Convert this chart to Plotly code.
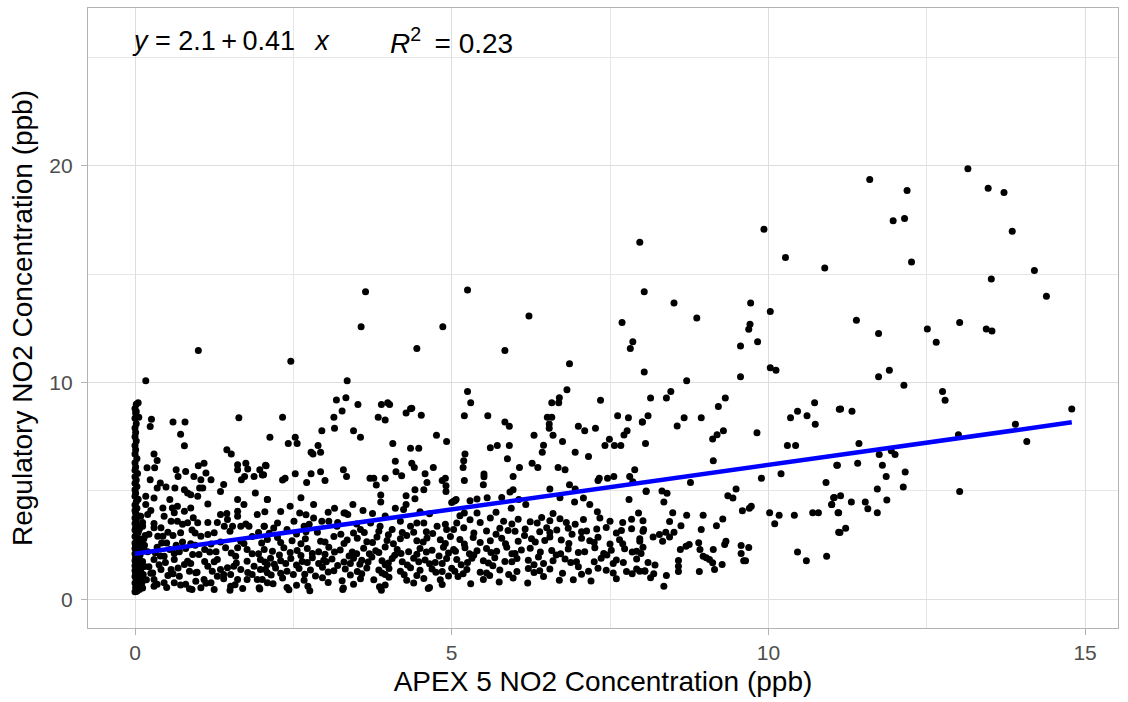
import plotly.graph_objects as go

# ---------------- data ----------------
# points hugging x = 0 (APEX ~ 0 ppb)
zero_pts = [
    (0.00,0.35),(0.02,0.42),(0.05,0.50),(0.01,0.55),(0.08,0.62),(0.03,0.70),(0.00,0.75),(0.06,0.83),(0.02,0.90),(0.10,0.96),
    (0.00,1.05),(0.04,1.10),(0.01,1.18),(0.07,1.25),(0.00,1.33),(0.03,1.40),(0.05,1.48),(0.00,1.55),(0.09,1.62),(0.02,1.70),
    (0.00,1.78),(0.06,1.85),(0.01,1.93),(0.04,2.00),(0.00,2.10),(0.08,2.18),(0.02,2.25),(0.00,2.35),(0.05,2.42),(0.01,2.50),
    (0.00,2.60),(0.03,2.70),(0.07,2.80),(0.00,2.90),(0.02,3.00),(0.05,3.10),(0.00,3.20),(0.01,3.30),(0.04,3.40),(0.00,3.50),
    (0.02,3.62),(0.00,3.75),(0.06,3.85),(0.01,3.97),(0.00,4.10),(0.03,4.20),(0.00,4.35),(0.02,4.50),(0.05,4.62),(0.00,4.75),
    (0.01,4.90),(0.00,5.05),(0.03,5.20),(0.00,5.35),(0.02,5.50),(0.00,5.65),(0.04,5.80),(0.00,5.95),(0.01,6.10),(0.00,6.30),
    (0.03,6.50),(0.00,6.70),(0.01,6.90),(0.00,7.10),(0.02,7.30),(0.00,7.50),(0.01,7.70),(0.00,7.90),(0.02,8.10),(0.00,8.35),
    (0.01,8.60),(0.00,8.80),(0.02,9.00),
    (0.03,0.38),(0.07,0.45),(0.12,0.52),(0.04,0.66),(0.11,0.78),(0.06,1.00),(0.13,1.15),(0.09,1.35),(0.15,1.52),(0.12,1.75),
    (0.08,2.05),(0.14,2.30),(0.10,2.65),(0.16,2.95),(0.07,3.25),(0.12,3.55),
]

# APEX 0.1 - 2.1 ppb
left_pts = [
    (1.00,11.48),(0.17,10.08),(0.05,9.07),(0.02,8.66),(0.06,8.40),(0.26,8.31),(0.24,7.97),(0.60,8.18),(0.79,8.18),(1.64,8.38),
    (0.72,7.62),(0.78,7.08),(0.30,6.70),(1.52,6.70),(0.19,6.07),(0.31,6.07),(0.65,5.98),(0.68,5.67),(1.00,6.16),(1.09,6.28),
    (1.12,5.83),(1.20,5.52),(0.93,5.67),(1.04,5.52),(1.02,5.14),(1.62,6.21),(1.62,5.98),(1.75,6.28),(1.78,6.01),(1.68,5.52),
    (1.73,5.67),(1.88,5.67),(1.97,5.98),(2.03,5.75),(2.07,6.16),(0.24,5.52),(0.35,5.14),(0.49,5.18),(0.40,5.37),(0.63,5.14),
    (0.78,5.06),(0.88,4.83),(0.99,4.75),(1.07,5.14),(0.83,4.91),(1.35,4.98),(1.62,4.60),(1.72,4.37),(1.62,4.06),(1.35,3.91),
    (2.09,4.60),(0.17,4.75),(0.30,4.68),(0.17,4.37),(0.44,4.21),(0.59,4.21),(0.67,4.29),(0.88,4.21),(0.92,3.76),(0.78,4.06),
    (0.46,3.83),(0.09,3.83),(0.20,3.91),(0.12,3.37),(0.30,3.30),(0.41,3.30),(0.44,2.91),(0.36,2.91),(0.57,3.60),(0.67,3.60),
    (0.72,3.07),(0.83,3.53),(0.99,3.53),(1.04,2.91),(1.15,2.99),(1.25,3.07),(1.46,3.68),(1.41,3.37),(1.54,3.37),(1.62,3.83),
    (1.67,3.37),(1.80,3.37),(1.93,3.91),(2.04,3.37),(1.43,2.38),(1.62,2.38),(1.67,2.68),(1.59,1.99),(1.77,2.30),
    (0.30,1.84),(0.46,1.99),(0.62,1.84),(0.83,1.76),(0.91,2.07),(1.01,2.07),(0.41,1.38),(0.57,1.38),(0.78,1.61),(0.86,1.30),
    (0.96,1.23),(1.15,1.53),(1.30,1.84),(1.35,1.38),(1.46,1.46),(1.56,1.53),(1.67,1.38),(1.77,1.76),(1.88,1.53),(1.98,1.38),
    (2.09,1.61),(1.93,0.92),(1.77,0.92),(1.51,0.61),(1.09,0.92),(1.04,0.54),(0.86,0.49),(1.20,0.77),(1.30,1.07),(0.30,0.92),
    (0.46,0.77),(0.62,0.77),(0.09,0.61),(0.70,1.07),(0.96,0.84),(1.51,1.15),(1.62,0.92),(1.96,0.54),(2.09,0.77),(2.09,1.23),
    (0.15,2.50),(0.20,2.20),(0.22,1.50),(0.25,1.20),(0.18,0.90),(0.30,0.60),(0.22,3.00),(0.14,2.80),(0.35,2.40),(0.40,2.00),
    (0.50,2.60),(0.55,2.30),(0.65,2.50),(0.70,2.20),(0.75,2.65),(0.52,1.10),(0.38,1.60),(0.68,1.45),(0.80,2.35),(0.95,2.50),
    (1.10,2.30),(1.20,2.55),(1.28,2.20),(1.10,1.75),(1.22,1.30),(1.40,0.95),(0.50,0.55),(0.80,0.70),(1.25,0.45),(1.70,0.50),
    (1.85,1.15),(1.95,2.10),(2.00,2.60),(0.60,2.95),(0.90,3.20),(0.25,4.10),(0.55,4.60),(1.15,4.40),(1.30,3.55),(1.85,2.90),
    (0.35,6.40),(1.45,6.90),(1.40,5.30),(1.90,4.90),(0.80,5.90),(0.90,0.45),(1.50,0.42),(1.97,0.48),
]

# APEX 2 - 5 ppb
mid_pts = [
    (3.64,14.18),(3.57,12.57),(4.86,12.57),(4.45,11.57),(2.46,10.98),(3.35,10.08),
    (3.18,9.19),(3.33,9.30),(3.27,8.69),(3.52,8.99),(3.14,8.40),(3.15,7.89),(3.45,7.78),(3.56,7.48),(2.95,7.78),(2.33,8.40),
    (2.13,7.48),(2.53,7.48),(2.42,7.19),(2.56,7.19),(2.78,6.79),(2.81,6.70),(2.93,6.79),(2.89,7.09),(3.89,8.99),(4.02,8.99),
    (3.99,9.07),(3.84,8.40),(3.95,8.27),(4.28,8.60),(4.35,8.79),(4.37,8.81),(4.52,8.49),(4.76,7.57),(4.92,7.28),(4.07,7.19),
    (4.35,6.97),(4.48,6.97),(4.11,6.37),(4.37,6.28),(4.41,6.08),(4.12,5.88),(4.21,5.70),(4.58,5.79),(4.71,6.08),(4.61,5.39),
    (4.85,5.48),(4.90,5.59),(4.91,5.24),(4.91,4.98),(3.95,5.59),(3.81,5.27),(3.71,5.59),(3.77,5.59),(3.29,5.98),(3.34,5.67),
    (2.93,5.88),(3.00,5.48),(2.78,5.79),(2.71,5.39),(2.53,5.79),(2.33,5.50),(2.37,5.59),(2.06,6.19),(2.01,5.74),(2.62,4.69),
    (2.82,4.38),(3.15,4.20),(3.32,3.98),(3.36,3.91),(3.44,4.38),(3.88,4.81),(3.88,4.49),(4.28,4.78),(4.28,4.37),(4.42,5.05),
    (4.42,4.64),(4.56,5.05),(4.11,4.20),(4.24,4.14),(5.03,4.52),(5.07,4.60),(2.09,4.60),
    (2.04,3.37),(2.19,3.29),(2.40,3.22),(2.51,3.60),(2.67,3.37),(2.82,3.75),(2.95,3.60),(3.06,3.60),(3.19,3.37),(3.30,3.98),
    (3.56,3.22),(3.72,3.52),(3.87,3.37),(4.06,3.22),(4.19,3.60),(4.35,3.37),(4.56,3.52),(4.77,3.37),(4.92,3.22),(5.08,3.52),
    (2.09,2.76),(2.25,2.85),(2.48,2.70),(2.69,2.80),(2.93,2.68),(3.14,2.90),(3.35,2.74),(3.51,2.82),(3.66,2.66),(3.82,2.88),
    (3.98,2.72),(4.19,2.79),(4.29,2.95),(4.45,2.70),(4.61,2.83),(4.82,2.75),(4.98,2.90),
    (2.04,2.30),(2.17,2.22),(2.35,2.38),(2.56,2.25),(2.72,2.35),(2.90,2.20),(3.06,2.40),(3.24,2.28),(3.43,2.18),(3.61,2.36),
    (3.80,2.24),(3.95,2.42),(4.14,2.30),(4.32,2.20),(4.50,2.35),(4.69,2.26),(4.87,2.40),(5.06,2.22),
    (1.98,1.84),(2.14,1.90),(2.30,1.78),(2.46,1.88),(2.64,1.75),(2.80,1.92),(2.98,1.80),(3.11,1.86),(3.30,1.72),(3.45,1.90),
    (3.58,1.80),(3.74,1.95),(3.90,1.78),(4.06,1.88),(4.22,1.74),(4.40,1.90),(4.58,1.82),(4.74,1.70),(4.92,1.88),
    (2.06,1.38),(2.22,1.45),(2.40,1.30),(2.59,1.42),(2.77,1.35),(2.96,1.48),(3.14,1.32),(3.32,1.40),(3.51,1.28),(3.66,1.45),
    (3.85,1.36),(4.01,1.42),(4.19,1.30),(4.35,1.46),(4.50,1.34),(4.69,1.40),(4.85,1.28),(5.00,1.44),
    (2.01,0.92),(2.33,0.98),(2.67,0.88),(2.96,1.00),(3.27,0.86),(3.56,0.95),(3.77,0.90),(4.01,1.02),(4.29,0.88),(4.56,0.96),
    (4.82,0.90),(2.40,0.55),(2.73,0.60),(3.29,0.52),(3.86,0.58),(4.65,0.55),(2.43,0.44),(2.76,0.40),(3.28,0.46),(3.89,0.42),
    (4.63,0.50),
    (2.12,3.05),(2.55,3.02),(2.88,3.10),(3.25,3.00),(3.62,3.08),(4.00,2.98),(4.40,3.10),(4.70,3.04),
    (2.28,2.05),(2.62,2.02),(3.00,2.08),(3.38,2.00),(3.70,2.10),(4.10,2.04),(4.45,2.08),(4.80,2.00),
    (2.20,1.62),(2.55,1.58),(2.90,1.65),(3.20,1.56),(3.55,1.62),(3.95,1.60),(4.30,1.58),(4.65,1.64),
    (2.15,1.12),(2.50,1.15),(2.85,1.08),(3.40,1.12),(3.95,1.15),(4.45,1.10),(4.95,1.08),
    (2.30,4.05),(2.70,3.90),(3.60,4.10),(3.95,3.85),(4.65,3.95),(2.45,4.30),
]

# APEX 5 - 8 ppb
cen_pts = [
    (5.25,14.27),(6.22,13.07),(5.84,11.48),(6.86,10.87),(8.04,14.18),(7.69,12.77),(7.86,11.88),(7.82,11.57),(8.04,10.48),
    (5.25,9.58),(5.30,9.07),(5.20,8.47),(5.57,8.47),(5.84,8.18),(5.91,7.98),(5.61,6.99),(5.72,7.09),(5.91,7.09),(5.88,6.48),
    (5.21,6.70),(5.19,6.39),(5.18,6.08),(5.20,5.48),(5.51,5.78),(5.51,5.65),(5.50,5.29),(6.07,6.08),(5.97,5.67),(6.30,7.57),
    (6.27,6.28),(6.36,6.08),(6.45,7.11),(6.43,6.79),(6.51,8.40),(6.58,8.40),(6.54,8.09),(6.54,7.89),(6.58,9.07),(6.70,9.30),
    (6.69,9.07),(6.82,9.67),(6.60,7.57),(6.75,7.28),(6.68,6.08),(6.79,5.98),(6.95,6.79),(7.00,7.98),(7.10,7.78),(7.27,7.89),
    (7.35,9.18),(7.16,6.59),(7.42,7.09),(7.49,7.38),(7.57,7.09),(7.67,7.09),(7.72,7.58),(7.77,7.78),(7.62,8.47),(7.79,8.38),
    (8.01,8.18),(8.06,7.19),(7.31,5.48),(7.33,5.59),(7.46,5.59),(7.56,5.67),(7.81,5.67),(7.89,5.98),(7.86,5.42),(6.55,5.09),
    (6.86,5.29),(6.95,5.09),(5.92,4.95),(5.97,5.05),(6.06,4.60),(5.79,4.70),(5.56,4.69),(5.05,4.55),(5.00,4.47),(5.29,4.55),
    (5.40,4.63),(6.17,4.37),(6.71,4.69),(6.94,4.49),(7.08,4.67),(7.18,4.37),(7.80,4.60),(8.07,4.98),(5.94,4.20),(5.40,3.98),
    (5.13,3.86),
    (5.29,3.67),(5.61,3.75),(5.82,3.60),(6.05,3.70),(6.24,3.58),(6.42,3.78),(6.55,3.62),(6.71,3.72),(6.81,3.55),(7.08,3.68),
    (7.34,3.75),(7.50,3.60),(7.84,3.70),(8.02,3.62),
    (5.03,3.22),(5.19,3.30),(5.55,3.15),(5.76,3.28),(5.89,3.18),(6.16,3.25),(6.39,3.12),(6.50,3.30),(6.66,3.20),(6.84,3.28),
    (7.13,3.15),(7.29,3.24),(7.44,3.32),(7.68,3.18),(7.84,3.26),(8.02,3.14),
    (5.13,2.76),(5.34,2.85),(5.61,2.70),(5.79,2.82),(6.05,2.68),(6.26,2.80),(6.47,2.72),(6.55,2.88),(6.73,2.74),(7.05,2.82),
    (7.18,2.70),(7.31,2.86),(7.65,2.75),(7.97,2.80),
    (5.03,2.30),(5.21,2.38),(5.40,2.24),(5.55,2.35),(5.71,2.22),(5.87,2.40),(6.10,2.28),(6.24,2.36),(6.58,2.25),(6.84,2.32),
    (7.10,2.20),(7.26,2.38),(7.52,2.26),(7.73,2.34),(7.92,2.22),(8.02,2.40),
    (5.08,1.84),(5.32,1.90),(5.50,1.78),(5.68,1.92),(5.84,1.75),(6.03,1.88),(6.21,1.80),(6.37,1.95),(6.60,1.78),(6.79,1.86),
    (6.97,1.74),(7.36,1.90),(7.60,1.82),(7.71,1.70),(7.92,1.86),
    (5.05,1.30),(5.24,1.38),(5.45,1.25),(5.76,1.35),(6.03,1.28),(6.21,1.42),(6.39,1.32),(6.55,1.40),(7.16,1.30),(7.31,1.44),
    (7.44,1.34),(7.76,1.28),(7.92,1.40),(8.05,1.32),
    (5.50,0.92),(5.97,0.98),(6.92,0.90),
    (5.15,1.60),(5.35,2.05),(5.65,1.55),(5.95,2.10),(6.30,1.60),(6.65,2.05),(7.00,1.50),(7.45,2.05),(5.20,2.55),(5.70,3.00),
    (6.15,2.95),(6.90,3.00),(7.50,2.55),(5.10,1.05),(5.60,1.10),(6.45,1.05),
]

# APEX 8 - 15 ppb
right_pts = [
    (9.93,17.07),(10.27,15.77),(10.89,15.28),(7.97,16.47),(8.51,13.67),(8.87,12.97),(9.72,13.67),(10.03,13.27),(9.71,12.69),
    (9.69,12.46),(9.83,11.88),(9.56,11.68),(8.71,10.08),(9.56,10.27),(10.03,10.68),(10.12,10.57),
    (8.14,9.29),(8.39,9.29),(8.46,9.58),(8.01,8.18),(8.10,8.47),(8.56,8.00),(8.67,8.38),(8.94,8.38),(9.21,8.89),(9.32,9.29),
    (9.12,7.39),(9.19,7.59),(9.29,7.78),(9.13,6.39),(9.82,7.68),(8.77,5.39),(9.89,5.59),(10.20,5.79),(10.35,8.38),(10.46,8.68),
    (10.61,8.47),(10.73,9.07),(10.74,8.08),(10.30,7.09),(10.43,7.09),(10.91,5.39),(11.08,6.19),(11.12,8.77),
    (8.07,5.00),(8.32,5.00),(8.40,4.89),(8.35,4.49),(8.49,3.99),(8.71,3.88),(8.97,3.88),(8.44,3.59),(8.62,3.39),(9.36,4.78),
    (9.44,4.68),(9.49,5.09),(9.59,4.09),(9.70,4.20),(9.73,4.29),(10.02,3.99),(10.17,3.88),(10.10,3.49),(10.41,3.88),(10.70,3.99),
    (10.79,3.99),(11.00,4.38),(11.03,4.69),(11.10,3.99),(10.46,2.19),(10.60,1.78),(10.92,1.99),(11.11,3.09),
    (8.03,3.22),(8.18,2.88),(8.28,2.99),(8.33,2.68),(8.38,3.09),(8.44,2.88),(8.51,3.09),(7.97,2.68),(7.99,2.11),
    (7.97,1.30),(8.05,1.30),(8.14,1.00),(8.19,1.18),(8.21,1.59),(8.35,0.61),(8.39,1.10),
    (8.58,1.79),(8.58,1.53),(8.58,1.29),(8.61,2.30),(8.70,2.45),(8.75,2.53),
    (8.90,2.61),(8.92,2.30),(8.97,1.99),(9.02,1.92),(9.07,1.84),(9.12,1.69),(9.15,1.38),(9.13,2.30),(9.18,3.40),(8.94,3.22),
    (9.28,3.71),(9.27,1.61),(9.31,2.53),(9.33,2.68),(8.91,1.29),
    (9.57,2.48),(9.57,2.11),(9.61,1.78),(9.64,1.78),(9.69,2.39),
    (11.60,19.36),(12.19,18.85),(11.97,17.46),(12.15,17.56),(12.26,15.56),(13.15,19.86),(13.47,18.96),(13.72,18.76),
    (13.85,16.97),(14.20,15.17),(13.52,14.77),(14.39,13.98),(11.39,12.87),(11.74,12.26),(12.51,12.47),(12.65,11.86),
    (13.02,12.77),(13.44,12.47),(13.53,12.37),(11.74,10.27),(11.91,10.57),(12.14,9.87),(12.75,9.58),(12.79,9.18),
    (11.14,8.78),(11.32,8.68),(14.79,8.78),(13.90,8.08),(14.08,7.28),(13.00,7.59),(11.43,7.19),(11.75,6.68),(11.94,6.85),
    (12.00,6.68),(11.09,6.18),(11.41,6.28),(11.80,6.18),(11.86,5.67),(12.16,5.87),(12.13,5.18),(11.72,5.09),(13.02,4.98),
    (11.04,4.70),(11.14,4.78),(11.00,4.38),(11.11,3.99),(11.31,4.49),(11.53,4.49),(11.57,4.18),(11.72,3.99),(11.87,4.58),
    (11.13,3.08),(11.22,3.28),
]

# extra points in the dense low band (APEX 0.3 - 8 ppb)
band_pts = [
    (0.35,0.70),(0.72,0.66),(1.12,0.74),(1.58,0.68),(2.18,0.72),(2.55,0.65),(3.05,0.78),(3.45,0.70),(3.95,0.66),(4.40,0.75),
    (4.85,0.69),(5.30,0.72),(5.75,0.80),(6.20,0.76),(6.70,0.88),(7.20,0.85),(7.60,0.95),
    (0.28,1.22),(0.60,1.18),(0.98,1.25),(1.40,1.15),(1.78,1.24),(2.30,1.20),(2.68,1.16),(3.05,1.26),(3.58,1.18),(3.90,1.22),
    (4.25,1.14),(4.75,1.25),(5.18,1.18),(5.55,1.22),(5.90,1.15),(6.30,1.24),(6.75,1.20),(7.05,1.16),(7.55,1.22),(7.85,1.18),
    (0.48,1.70),(0.88,1.66),(1.25,1.74),(1.60,1.68),(2.05,1.72),(2.38,1.65),(2.72,1.70),(3.02,1.74),(3.40,1.66),(3.68,1.72),
    (4.00,1.68),(4.48,1.74),(4.85,1.66),(5.25,1.70),(5.58,1.68),(5.95,1.73),(6.45,1.66),(6.88,1.70),(7.25,1.74),(7.55,1.66),
    (8.10,1.70),
    (0.32,2.15),(0.62,2.12),(1.18,2.18),(1.52,2.14),(1.85,2.10),(2.45,2.16),(2.80,2.12),(3.15,2.18),(3.50,2.10),(3.85,2.16),
    (4.20,2.12),(4.60,2.18),(4.95,2.14),(5.28,2.10),(5.62,2.16),(6.00,2.12),(6.40,2.18),(6.72,2.10),(7.00,2.16),(7.40,2.12),
    (7.85,2.18),
    (0.42,2.60),(0.88,2.56),(1.35,2.64),(1.72,2.58),(2.30,2.62),(2.62,2.56),(3.00,2.64),(3.30,2.58),(3.75,2.62),(4.08,2.56),
    (4.55,2.64),(4.90,2.58),(5.45,2.62),(5.85,2.56),(6.32,2.64),(6.85,2.58),(7.25,2.62),(7.70,2.56),
    (0.52,3.10),(0.95,3.06),(1.50,3.14),(1.95,3.08),(2.70,3.12),(3.45,3.06),(3.85,3.14),(4.22,3.08),(4.60,3.12),(5.35,3.06),
    (6.00,3.14),(6.55,3.08),(7.05,3.12),(7.60,3.06),
    (0.30,3.50),(0.75,3.46),(1.15,3.54),(1.75,3.48),(2.25,3.52),(2.75,3.46),(3.20,3.54),(3.50,3.48),(4.45,3.52),(4.90,3.46),
    (5.45,3.54),(5.95,3.48),(6.35,3.52),(6.95,3.46),(7.70,3.54),
    (0.62,4.00),(1.45,3.96),(2.05,4.04),(2.60,3.98),(3.05,4.02),(3.75,3.96),(4.50,4.04),(5.20,3.98),(5.70,4.02),(6.60,3.96),
    (7.30,4.04),(7.95,3.98),
]

# fitted regression (as printed on the chart)
fit_intercept = 2.1
fit_slope = 0.41
eq_label = "<i>y</i>\u00a0=\u00a02.1\u2009+\u20090.41\u00a0\u00a0\u2009<i>x</i>"
r2_label = "<i>R</i><sup>2</sup>\u2009\u00a0=\u00a00.23"

x_ticks = [0, 5, 10, 15]
y_ticks = [0, 10, 20]
x_title = "APEX 5 NO2 Concentration (ppb)"
y_title = "Regulatory NO2 Concentration (ppb)"

# ---------------- build ----------------
all_pts = zero_pts + left_pts + mid_pts + cen_pts + right_pts + band_pts
apex_x = [p[0] for p in all_pts]
reg_y = [p[1] for p in all_pts]

x_min, x_max = min(apex_x), max(apex_x)
line_x = [x_min, x_max]
line_y = [fit_intercept + fit_slope * v for v in line_x]

FONT = "Liberation Sans, Arial, sans-serif"

fig = go.Figure()
fig.add_trace(go.Scatter(
    x=apex_x, y=reg_y, mode="markers",
    marker=dict(color="black", size=7, line=dict(width=0)),
    showlegend=False, hoverinfo="x+y",
))
fig.add_trace(go.Scatter(
    x=line_x, y=line_y, mode="lines",
    line=dict(color="#0000ff", width=4.5),
    showlegend=False,
))

axis_common = dict(
    showgrid=True, gridcolor="#dedede", gridwidth=1.1,
    zeroline=False, automargin=False,
    showline=True, mirror=True, linecolor="#b3b3b3", linewidth=1.3,
    ticks="outside", ticklen=6, tickcolor="#b3b3b3", tickwidth=1.3,
    tickfont=dict(family=FONT, size=21, color="#4d4d4d"),
    title_font=dict(family=FONT, size=28, color="black"),
)

fig.update_layout(
    width=1128, height=702,
    margin=dict(l=88, r=10, t=8, b=74, autoexpand=False),
    paper_bgcolor="white", plot_bgcolor="white",
    font=dict(family=FONT),
    xaxis=dict(
        range=[-0.742, 15.52], tickvals=x_ticks, ticktext=[str(v) for v in x_ticks],
        minor=dict(tickvals=[2.5, 7.5, 12.5], showgrid=True, gridcolor="#e6e6e6", gridwidth=0.7, ticks=""),
        title=dict(text=x_title, standoff=8),
        **axis_common,
    ),
    yaxis=dict(
        range=[-1.32, 27.27], tickvals=y_ticks, ticktext=[str(v) for v in y_ticks],
        minor=dict(tickvals=[5, 15, 25], showgrid=True, gridcolor="#e6e6e6", gridwidth=0.7, ticks=""),
        title=dict(text=y_title, standoff=8),
        ticklabelstandoff=4,
        **axis_common,
    ),
    annotations=[
        dict(x=-0.08, y=25.75, xref="x", yref="y", text=eq_label, showarrow=False,
             xanchor="left", yanchor="middle", font=dict(family=FONT, size=27, color="black")),
        dict(x=4.0, y=25.75, xref="x", yref="y", text=r2_label, showarrow=False,
             xanchor="left", yanchor="middle", font=dict(family=FONT, size=28, color="black")),
    ],
)

# remove the browser's default 8px page margin so the 1128x702 figure fills the window
fig.write_html("out.html", config={"displayModeBar": False},
               post_script="document.body.style.margin='0';document.body.style.padding='0';")
